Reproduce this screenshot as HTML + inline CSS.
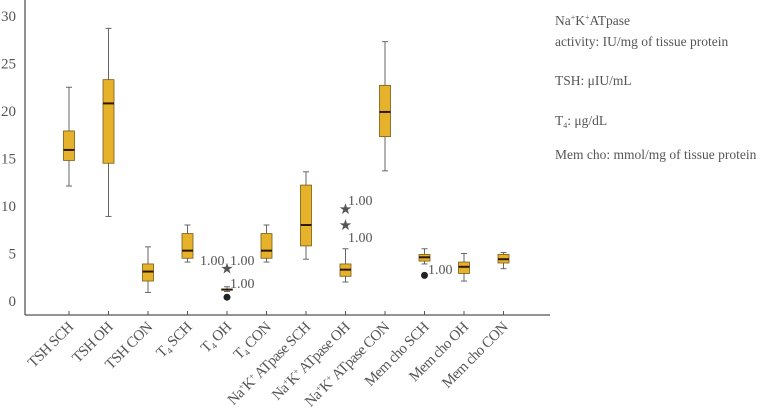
<!DOCTYPE html>
<html><head><meta charset="utf-8"><style>
body{margin:0;background:#fff}
svg{font-family:"Liberation Serif",serif;fill:#444}
</style></head><body>
<svg id="chart" width="762" height="411" viewBox="0 0 762 411">
<g id="legend" font-size="13.5" fill="#555">
<text x="555" y="25">Na<tspan dy="-5" font-size="8">+</tspan><tspan dy="5">K</tspan><tspan dy="-5" font-size="8">+</tspan><tspan dy="5">ATpase</tspan></text>
<text x="555" y="46">activity: IU/mg of tissue protein</text>
<text x="555" y="85">TSH: μIU/mL</text>
<text x="555" y="125">T<tspan dy="3" font-size="8">4</tspan><tspan dy="-3">: μg/dL</tspan></text>
<text x="555" y="159">Mem cho: mmol/mg of tissue protein</text>
</g>
</svg>
<script>
const categories=["TSH SCH","TSH OH","TSH CON","T4 SCH","T4 OH","T4 CON","NaK SCH","NaK OH","NaK CON","Mem cho SCH","Mem cho OH","Mem cho CON"];
const whiskerLow=[12.1,8.9,0.9,4.1,1.0,4.1,4.4,2.0,13.7,3.9,2.1,3.4];
const q1=[14.8,14.5,2.1,4.5,1.15,4.5,5.8,2.6,17.3,4.2,2.9,4.0];
const median=[15.9,20.8,3.1,5.3,1.2,5.3,8.0,3.3,19.9,4.6,3.6,4.4];
const q3=[17.9,23.3,3.9,7.1,1.25,7.1,12.2,3.9,22.7,4.9,4.1,4.9];
const whiskerHigh=[22.5,28.7,5.7,8.0,1.5,8.0,13.6,5.5,27.3,5.5,5.0,5.1];
const outlierCat=[4,4,7,7,9];
const outlierVal=[3.4,0.4,9.7,8.0,2.7];
const outlierType=["star","dot","star","star","dot"];
const yTicks=[0,5,10,15,20,25,30];

const svg=document.getElementById('chart');
const NS='http://www.w3.org/2000/svg';
const yS=v=>301-v*9.5;
const xS=i=>69+i*39.5;
function mk(t,a){const e=document.createElementNS(NS,t);for(const k in a)e.setAttribute(k,a[k]);svg.appendChild(e);return e;}

let e=mk('line',{x1:25,y1:0,x2:25,y2:315,stroke:'#555','stroke-width':1.3});


e=mk('line',{x1:25,y1:315,x2:550,y2:315,stroke:'#555','stroke-width':1.3});


yTicks.forEach(v=>{
  const t=mk('text',{x:16,y:yS(v)+5,'text-anchor':'end','font-size':15,fill:'#555'});
  t.textContent=v;
  
  
});
const sub='T<tspan dy="3" font-size="9">4</tspan><tspan dy="-3">';
const labelsHtml=["TSH SCH","TSH OH","TSH CON",sub+' SCH</tspan>',sub+' OH</tspan>',sub+' CON</tspan>'];
const nak=s=>'Na<tspan dy="-5" font-size="9">+</tspan><tspan dy="5">K</tspan><tspan dy="-5" font-size="9">+</tspan><tspan dy="5"> ATpase '+s+'</tspan>';
categories.forEach((c,i)=>{
  const x=xS(i);
  const tk=mk('line',{x1:x,y1:311,x2:x,y2:315,stroke:'#555'});
  
  
  const t=mk('text',{x:x+5,y:328,'text-anchor':'end','font-size':15,fill:'#555',transform:`rotate(-45 ${x+5} 328)`,'letter-spacing':'-0.6'});
  t.innerHTML=i<6?labelsHtml[i]:(i<9?nak(c.split(' ')[1]):c);
  
  
  const w=mk('line',{x1:x,y1:yS(whiskerLow[i]),x2:x,y2:yS(whiskerHigh[i]),stroke:'#666'});
  
  
  [whiskerLow[i],whiskerHigh[i]].forEach(v=>{
    const cap=mk('line',{x1:x-3,y1:yS(v),x2:x+3,y2:yS(v),stroke:'#666'});
    
    
  });
  const b=mk('rect',{x:x-5.5,y:yS(q3[i]),width:11,height:Math.max(1,yS(q1[i])-yS(q3[i])),fill:'#E6B12B',stroke:'#7a5a10','stroke-width':0.8});
  
  
  const m=mk('line',{x1:x-5.5,y1:yS(median[i]),x2:x+5.5,y2:yS(median[i]),stroke:'#2a1a05','stroke-width':2});
  
  
});
outlierCat.forEach((c,k)=>{
  const x=xS(c),y=yS(outlierVal[k]);
  let o;
  if(outlierType[k]==='star'){o=mk('text',{x:x,y:y+5,'text-anchor':'middle','font-size':15,fill:'#555'});o.textContent='★';}
  else{o=mk('circle',{cx:x,cy:y,r:3.5,fill:'#222'});}
  
  
});
const annX=[200,230,230,348,348,428];
const annY=[265,265,288,205,242,274];
annX.forEach((x,k)=>{
  const t=mk('text',{x:x,y:annY[k],'font-size':14,fill:'#555'});
  t.textContent='1.00';
  
  
});
</script>
</body></html>
